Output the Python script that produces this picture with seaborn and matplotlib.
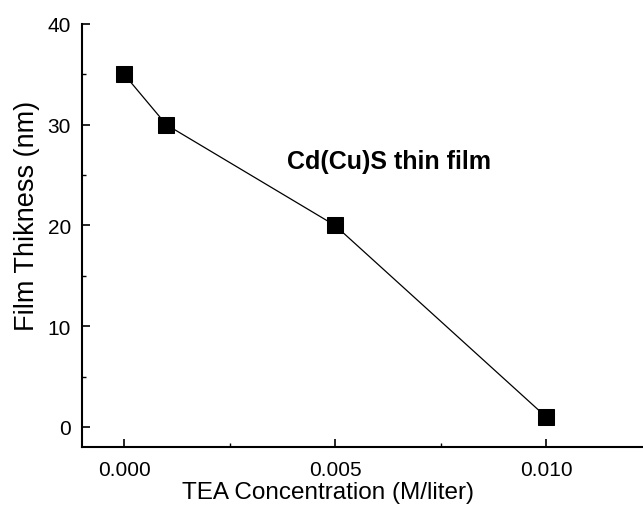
import matplotlib
matplotlib.use('Agg')
import matplotlib.pyplot as plt
import seaborn as sns
from matplotlib.ticker import MultipleLocator, FormatStrFormatter

# data
tea_conc = [0.000, 0.001, 0.005, 0.010]
thickness = [35, 30, 20, 1]

sns.set_style('ticks')
plt.rcParams['font.family'] = ['Liberation Sans', 'DejaVu Sans']
plt.rcParams['text.color'] = 'black'
plt.rcParams['axes.labelcolor'] = 'black'
plt.rcParams['xtick.color'] = 'black'
plt.rcParams['ytick.color'] = 'black'
plt.rcParams['axes.edgecolor'] = 'black'

fig = plt.figure(figsize=(6.43, 5.06), dpi=100)
ax = fig.add_axes([0.1275, 0.1146, 0.8725, 0.836])

sns.lineplot(x=tea_conc, y=thickness, ax=ax, color='black', linewidth=0.9,
             marker='s', markersize=11, markeredgecolor='black',
             markerfacecolor='black')

ax.set_xlim(-0.001, 0.0123)
ax.set_ylim(-2, 40)
ax.xaxis.set_major_locator(MultipleLocator(0.005))
ax.xaxis.set_minor_locator(MultipleLocator(0.0025))
ax.yaxis.set_major_locator(MultipleLocator(10))
ax.yaxis.set_minor_locator(MultipleLocator(5))
ax.xaxis.set_major_formatter(FormatStrFormatter('%.3f'))

ax.tick_params(which='major', direction='in', length=6, width=1.2, labelsize=15)
ax.tick_params(axis='y', which='major', pad=8)
ax.tick_params(axis='x', which='major', pad=9)
ax.tick_params(which='minor', direction='in', length=3, width=1.0)

sns.despine(ax=ax)
for side in ['left', 'bottom']:
    ax.spines[side].set_linewidth(1.5)

ax.set_xlabel('TEA Concentration (M/liter)', fontsize=17.5)
ax.set_ylabel('Film Thikness (nm)', fontsize=19.5)
# labels sit off-centre in the original figure
ax.xaxis.set_label_coords(0.4385, -0.08)
ax.yaxis.set_label_coords(-0.074, 0.548)

ax.text(0.00628, 26.4, 'Cd(Cu)S thin film', fontsize=18, fontweight='bold',
        ha='center', va='center')

fig.savefig('out.png', dpi=100)
